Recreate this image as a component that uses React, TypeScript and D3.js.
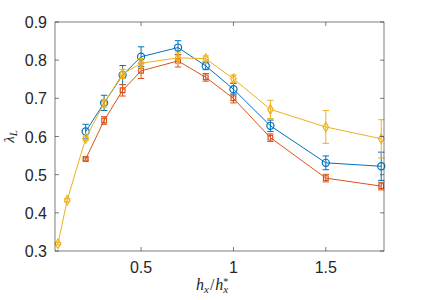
import * as d3 from 'd3';
import React, { useRef, useEffect } from 'react';

// x positions (h_x / h_x^*)
const xShort = [0.2, 0.3, 0.4, 0.5, 0.7, 0.85, 1.0, 1.2, 1.5, 1.8];
const xLong = [0.05, 0.1, 0.2, 0.3, 0.4, 0.5, 0.7, 0.85, 1.0, 1.2, 1.5, 1.8];

// blue (circles)
const blueY = [0.613, 0.688, 0.761, 0.809, 0.833, 0.785, 0.724, 0.628, 0.531, 0.522];
const blueErr = [0.019, 0.02, 0.025, 0.026, 0.018, 0.01, 0.015, 0.015, 0.018, 0.037];

// red (squares)
const redY = [0.541, 0.642, 0.721, 0.772, 0.798, 0.755, 0.7, 0.597, 0.491, 0.47];
const redErr = [0.003, 0.01, 0.015, 0.02, 0.016, 0.01, 0.012, 0.01, 0.01, 0.01];

// yellow (diamonds)
const yellowY = [0.319, 0.433, 0.595, 0.687, 0.764, 0.792, 0.806, 0.804, 0.751, 0.671, 0.625, 0.594];
const yellowErr = [0.003, 0.004, 0.006, 0.01, 0.012, 0.012, 0.015, 0.007, 0.01, 0.024, 0.043, 0.05];

const xTicks = [0.5, 1, 1.5];
const yTicks = [0.3, 0.4, 0.5, 0.6, 0.7, 0.8, 0.9];

interface Series {
    x: number[];
    y: number[];
    err: number[];
    color: string;
    marker: 'circle' | 'square' | 'diamond';
}

const series: Series[] = [
    { x: xShort, y: blueY, err: blueErr, color: '#0072BD', marker: 'circle' },
    { x: xShort, y: redY, err: redErr, color: '#D95319', marker: 'square' },
    { x: xLong, y: yellowY, err: yellowErr, color: '#EDB120', marker: 'diamond' },
];

const Chart: React.FC = () => {
    const ref = useRef<SVGSVGElement | null>(null);

    useEffect(() => {
        const width = 425;
        const height = 300;
        const left = 55;
        const right = 384;
        const top = 22;
        const bottom = 251;

        const svg = d3.select(ref.current).attr('width', width).attr('height', height);
        svg.selectAll('*').remove();
        svg.append('rect').attr('width', width).attr('height', height).attr('fill', '#fff');

        const x = d3.scaleLinear().domain([0.034, 1.815]).range([left, right]);
        const y = d3.scaleLinear().domain([0.3, 0.9]).range([bottom, top]);

        const axisColor = '#262626';
        const tickFont = '"Liberation Sans", Arial, sans-serif';

        // series: line, error bars, markers
        series.forEach((s) => {
            const g = svg.append('g');
            const pts = s.x.map((xv, i) => [x(xv), y(s.y[i])] as [number, number]);
            g.append('path')
                .attr('d', d3.line()(pts))
                .attr('fill', 'none')
                .attr('stroke', s.color)
                .attr('stroke-width', 1);

            const cap = 3.2;
            s.x.forEach((xv, i) => {
                const cx = x(xv);
                const y0 = y(s.y[i] - s.err[i]);
                const y1 = y(s.y[i] + s.err[i]);
                const p = d3.path();
                p.moveTo(cx, y0);
                p.lineTo(cx, y1);
                p.moveTo(cx - cap, y0);
                p.lineTo(cx + cap, y0);
                p.moveTo(cx - cap, y1);
                p.lineTo(cx + cap, y1);
                g.append('path')
                    .attr('d', p.toString())
                    .attr('fill', 'none')
                    .attr('stroke', s.color)
                    .attr('stroke-width', 1);
            });

            const symType =
                s.marker === 'circle'
                    ? d3.symbolCircle
                    : s.marker === 'square'
                    ? d3.symbolSquare
                    : d3.symbolDiamond;
            const symSize = s.marker === 'circle' ? 40 : s.marker === 'square' ? 22 : 26;
            g.selectAll('path.marker')
                .data(pts)
                .join('path')
                .attr('class', 'marker')
                .attr('transform', (d) => `translate(${d[0]},${d[1]})`)
                .attr('d', d3.symbol().type(symType).size(symSize)())
                .attr('fill', 'none')
                .attr('stroke', s.color)
                .attr('stroke-width', 1.2);
        });

        // axes box
        svg.append('rect')
            .attr('x', left)
            .attr('y', top)
            .attr('width', right - left)
            .attr('height', bottom - top)
            .attr('fill', 'none')
            .attr('stroke', axisColor)
            .attr('stroke-width', 0.6);

        const tickLen = 4;
        xTicks.forEach((t) => {
            const px = x(t);
            svg.append('line')
                .attr('x1', px).attr('x2', px)
                .attr('y1', bottom).attr('y2', bottom - tickLen)
                .attr('stroke', axisColor).attr('stroke-width', 0.6);
            svg.append('line')
                .attr('x1', px).attr('x2', px)
                .attr('y1', top).attr('y2', top + tickLen)
                .attr('stroke', axisColor).attr('stroke-width', 0.6);
            svg.append('text')
                .attr('x', px)
                .attr('y', bottom + 22)
                .attr('text-anchor', 'middle')
                .style('font-family', tickFont)
                .style('font-size', '16px')
                .attr('fill', axisColor)
                .text(d3.format('~g')(t));
        });

        yTicks.forEach((t) => {
            const py = y(t);
            svg.append('line')
                .attr('x1', left).attr('x2', left + tickLen)
                .attr('y1', py).attr('y2', py)
                .attr('stroke', axisColor).attr('stroke-width', 0.6);
            svg.append('line')
                .attr('x1', right).attr('x2', right - tickLen)
                .attr('y1', py).attr('y2', py)
                .attr('stroke', axisColor).attr('stroke-width', 0.6);
            svg.append('text')
                .attr('x', left - 8)
                .attr('y', py + 6)
                .attr('text-anchor', 'end')
                .style('font-family', tickFont)
                .style('font-size', '16px')
                .attr('fill', axisColor)
                .text(d3.format('.1f')(t));
        });

        const serif = '"Liberation Serif", "DejaVu Serif", serif';

        // x label: h_x / h_x^*
        const xl = svg
            .append('text')
            .attr('x', 196)
            .attr('y', 290)
            .attr('text-anchor', 'start')
            .style('font-family', serif)
            .style('font-size', '16px')
            .style('font-style', 'italic')
            .attr('fill', axisColor);
        xl.append('tspan').text('h');
        xl.append('tspan').attr('dy', 3).style('font-size', '11px').text('x');
        xl.append('tspan').attr('dy', -3).attr('dx', 1).style('font-style', 'normal').text('/');
        xl.append('tspan').attr('dx', 1).text('h');
        xl.append('tspan').attr('dy', -5).style('font-size', '10px').style('font-style', 'normal').text('*');
        xl.append('tspan').attr('dx', -5).attr('dy', 8).style('font-size', '11px').text('x');

        // y label: lambda_L
        const yl = svg
            .append('text')
            .attr('transform', `translate(14, ${(top + bottom) / 2}) rotate(-90)`)
            .attr('text-anchor', 'middle')
            .style('font-family', serif)
            .style('font-size', '15px')
            .style('font-style', 'italic')
            .attr('fill', axisColor);
        yl.append('tspan').text('λ');
        yl.append('tspan').attr('dy', 3).style('font-size', '11px').text('L');
    }, []);

    return <svg ref={ref} style={{ position: 'absolute', left: 0, top: 0 }}></svg>;
};

export default function App() {
    return <Chart />;
}
